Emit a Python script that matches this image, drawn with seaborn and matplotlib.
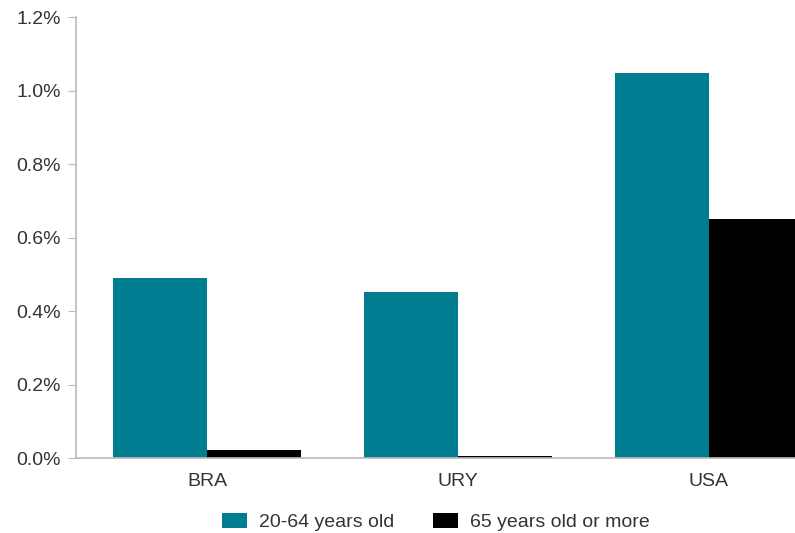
import matplotlib
matplotlib.use('AGG')
import matplotlib.pyplot as plt
import seaborn as sns
import pandas as pd
from matplotlib.ticker import PercentFormatter

countries = ['BRA', 'URY', 'USA']
age_groups = ['20-64 years old', '65 years old or more']
share_20_64 = [0.49, 0.452, 1.048]
share_65_plus = [0.022, 0.006, 0.65]

df = pd.DataFrame({
    'country': countries * 2,
    'group': [age_groups[0]] * 3 + [age_groups[1]] * 3,
    'value': share_20_64 + share_65_plus,
})

sns.set_style('white')
plt.rcParams['font.family'] = ['Liberation Sans', 'DejaVu Sans']

fig = plt.figure(figsize=(7.95, 5.33), dpi=100)
ax = fig.add_axes([0.0956, 0.1407, 0.9044, 0.8273])

sns.barplot(data=df, x='country', y='value', hue='group',
            palette=['#007D91', '#000000'], width=0.75, saturation=1,
            linewidth=0, ax=ax)

ax.set_xlim(-0.522, 2.343)
ax.set_ylim(0, 1.2)
ax.set_yticks([0, 0.2, 0.4, 0.6, 0.8, 1.0, 1.2])
ax.yaxis.set_major_formatter(PercentFormatter(xmax=100, decimals=1))
ax.set_xlabel('')
ax.set_ylabel('')

for s in ['top', 'right']:
    ax.spines[s].set_visible(False)
for s in ['left', 'bottom']:
    ax.spines[s].set_color('#bbbbbb')
    ax.spines[s].set_linewidth(1.2)

ax.tick_params(axis='y', left=True, length=6, color='#bbbbbb', labelsize=14,
               labelcolor='#333333', pad=5)
ax.tick_params(axis='x', bottom=False, labelsize=14, labelcolor='#333333', pad=7)

ax.legend(loc='upper center', bbox_to_anchor=(0.5, -0.085), ncol=2, frameon=False,
          fontsize=14, labelcolor='#333333', handlelength=1.3, handleheight=0.8,
          columnspacing=2.0, handletextpad=0.6)

fig.savefig('out.png', dpi=100)
